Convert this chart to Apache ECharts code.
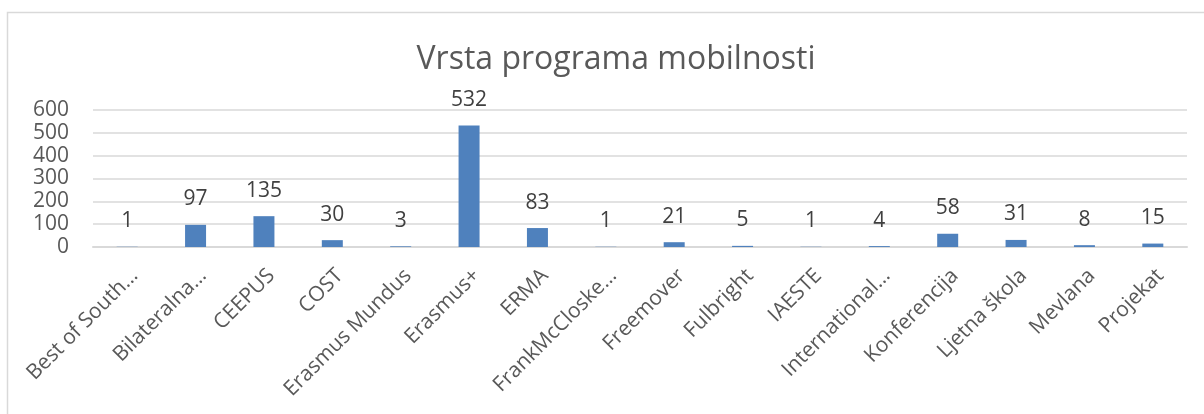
<!DOCTYPE html>
<html>
<head>
<meta charset="utf-8">
<script src="https://cdn.jsdelivr.net/npm/echarts@6/dist/echarts.min.js"></script>
<style>
html,body{margin:0;padding:0;background:#fff;}
#c{width:1204px;height:414px;}
</style>
</head>
<body>
<div id="c"></div>
<script>
const titleText = 'Vrsta programa mobilnosti';
const categories = ['Best of South…','Bilateralna…','CEEPUS','COST','Erasmus Mundus','Erasmus+','ERMA','FrankMcCloske…','Freemover','Fulbright','IAESTE','International…','Konferencija','Ljetna škola','Mevlana','Projekat'];
const values = [1,97,135,30,3,532,83,1,21,5,1,4,58,31,8,15];
const yTicks = [0,100,200,300,400,500,600];

const chart = echarts.init(document.getElementById('c'), null, {renderer:'canvas'});
const font = '"Open Sans", "Noto Sans", sans-serif';
chart.setOption({
  animation:false,
  backgroundColor:'#fff',
  textStyle:{fontFamily:font},
  graphic:[{type:'rect', shape:{x:7.5,y:12.5,width:1300,height:500}, style:{fill:'none',stroke:'#d9d9d9',lineWidth:1.5}, silent:true, z:-1}],
  title:{text:titleText, left:611, top:39, textAlign:'center',
    textStyle:{fontFamily:font,fontSize:32,fontWeight:'normal',color:'#595959'}},
  grid:{left:93,right:17,top:110,bottom:167,containLabel:false},
  xAxis:{type:'category',data:categories,
    axisLine:{lineStyle:{color:'#d9d9d9',width:2}},
    axisTick:{show:false},
    axisLabel:{interval:0,rotate:45,verticalAlign:'top',color:'#595959',fontSize:21,fontFamily:font,margin:18}},
  yAxis:{type:'value',min:yTicks[0],max:yTicks[yTicks.length-1],interval:100,
    axisLine:{show:false},axisTick:{show:false},
    splitLine:{lineStyle:{color:'#d9d9d9',width:1.5}},
    axisLabel:{color:'#595959',fontSize:21,fontFamily:font,margin:24}},
  series:[{type:'bar',data:values,barWidth:21,
    itemStyle:{color:'#4f81bd'},
    label:{show:true,position:'top',distance:15,color:'#404040',fontSize:21,fontFamily:font}}]
});
</script>
</body>
</html>
